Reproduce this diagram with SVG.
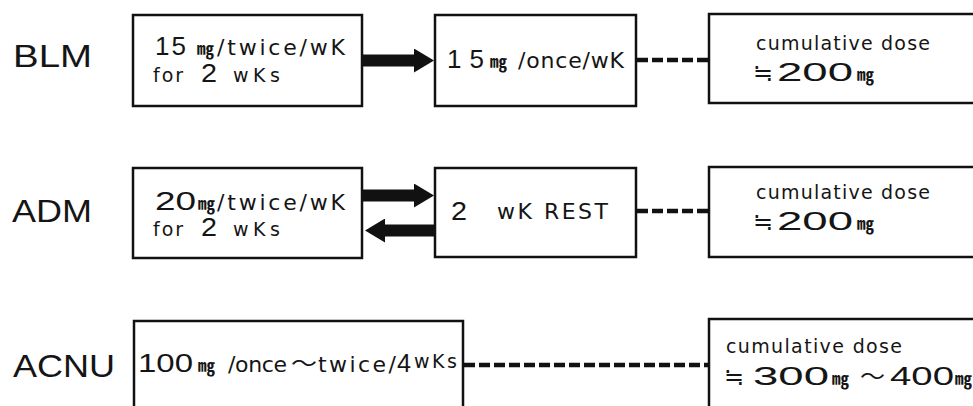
<svg xmlns="http://www.w3.org/2000/svg" width="973" height="406" viewBox="0 0 973 406">
  <defs>
    <style>
      .box { fill: #fff; stroke: #111; stroke-width: 2.5; }
      .t { font-family: "DejaVu Sans", "Liberation Sans", sans-serif; fill: #151515; }
      .d { font-family: "Liberation Sans", "DejaVu Sans", sans-serif; fill: #151515; }
      .cjk { font-family: "Noto Sans CJK JP", "DejaVu Sans", sans-serif; fill: #151515; }
      .drug { font-size: 32px; }
      .big { font-size: 26px; }
      .mid { font-size: 22px; }
      .sm { font-size: 19px; }
      .approx { font-size: 24px; }
      .unit { font-size: 17px; font-weight: bold; }
      .arrow { stroke: #111; stroke-width: 12; fill: none; }
      .dash { stroke: #111; stroke-width: 4.5; stroke-dasharray: 11 4; fill: none; }
    </style>
    <marker id="head" markerUnits="userSpaceOnUse" markerWidth="22" markerHeight="24" refX="1" refY="12" orient="auto">
      <path d="M0,0 L20,12 L0,24 z" fill="#111"/>
    </marker>
  </defs>
  <rect width="973" height="406" fill="#fff"/>

  <!-- drug labels -->
  <g id="label-blm"><text class="d drug" x="13" y="67" textLength="79" lengthAdjust="spacingAndGlyphs">BLM</text></g>
  <g id="label-adm"><text class="d drug" x="12" y="222" textLength="80" lengthAdjust="spacingAndGlyphs">ADM</text></g>
  <g id="label-acnu"><text class="d drug" x="13" y="377" textLength="102" lengthAdjust="spacingAndGlyphs">ACNU</text></g>

  <!-- BLM row -->
  <g id="blm-schedule">
    <rect class="box" x="133" y="15" width="229" height="91"/>
    <text class="d big" x="155" y="55" textLength="31" lengthAdjust="spacing">15</text>
    <text class="cjk unit" x="197" y="55">㎎</text>
    <text class="t mid" x="217" y="55" textLength="128" lengthAdjust="spacing">/twice/wK</text>
    <text class="t sm" x="153" y="82" textLength="30" lengthAdjust="spacing">for</text>
    <text class="d big" x="201" y="82" textLength="16" lengthAdjust="spacingAndGlyphs">2</text>
    <text class="t sm" x="233" y="82" textLength="47" lengthAdjust="spacing">wKs</text>
  </g>
  <g id="blm-maintenance">
    <rect class="box" x="435" y="15" width="201" height="91"/>
    <text class="d big" x="447" y="68" textLength="37" lengthAdjust="spacing">15</text>
    <text class="cjk unit" x="490" y="68">㎎</text>
    <text class="t mid" x="518" y="68" textLength="106" lengthAdjust="spacing">/once/wK</text>
  </g>
  <g id="blm-total">
    <rect class="box" x="709" y="14" width="300" height="89"/>
    <text class="t sm" x="756" y="50" textLength="174" lengthAdjust="spacing">cumulative dose</text>
    <text class="cjk approx" x="753" y="81">≒</text>
    <text class="d big" x="777" y="81" textLength="76" lengthAdjust="spacingAndGlyphs">200</text>
    <text class="cjk unit" x="857" y="81">㎎</text>
  </g>

  <!-- ADM row -->
  <g id="adm-schedule">
    <rect class="box" x="133" y="168" width="229" height="90"/>
    <text class="d big" x="155" y="210" textLength="41" lengthAdjust="spacingAndGlyphs">20</text>
    <text class="cjk unit" x="198" y="210">㎎</text>
    <text class="t mid" x="217" y="210" textLength="128" lengthAdjust="spacing">/twice/wK</text>
    <text class="t sm" x="153" y="236" textLength="30" lengthAdjust="spacing">for</text>
    <text class="d big" x="201" y="236" textLength="16" lengthAdjust="spacingAndGlyphs">2</text>
    <text class="t sm" x="233" y="236" textLength="47" lengthAdjust="spacing">wKs</text>
  </g>
  <g id="adm-rest">
    <rect class="box" x="435" y="168" width="201" height="89"/>
    <text class="d big" x="451" y="220" textLength="16" lengthAdjust="spacingAndGlyphs">2</text>
    <text class="t mid" x="497" y="219" textLength="111" lengthAdjust="spacing">wK REST</text>
  </g>
  <g id="adm-total">
    <rect class="box" x="709" y="167" width="300" height="90"/>
    <text class="t sm" x="756" y="199" textLength="174" lengthAdjust="spacing">cumulative dose</text>
    <text class="cjk approx" x="753" y="230">≒</text>
    <text class="d big" x="777" y="230" textLength="76" lengthAdjust="spacingAndGlyphs">200</text>
    <text class="cjk unit" x="857" y="230">㎎</text>
  </g>

  <!-- ACNU row -->
  <g id="acnu-schedule">
    <rect class="box" x="134" y="321" width="329" height="120"/>
    <text class="d big" x="138" y="372" textLength="55" lengthAdjust="spacingAndGlyphs">100</text>
    <text class="cjk unit" x="198" y="372">㎎</text>
    <text class="t mid" x="228" y="372" textLength="59" lengthAdjust="spacing">/once</text>
    <text class="cjk mid" x="291" y="371" textLength="26" lengthAdjust="spacingAndGlyphs">〜</text>
    <text class="t mid" x="318" y="372" textLength="78" lengthAdjust="spacing">twice/</text>
    <text class="d big" x="397" y="372" textLength="14" lengthAdjust="spacingAndGlyphs">4</text>
    <text class="t sm" x="414" y="368" textLength="43" lengthAdjust="spacing">wKs</text>
  </g>
  <g id="acnu-total">
    <rect class="box" x="709" y="319" width="300" height="120"/>
    <text class="t sm" x="726" y="353" textLength="176" lengthAdjust="spacing">cumulative dose</text>
    <text class="cjk approx" x="724" y="385">≒</text>
    <text class="d big" x="753" y="385" textLength="76" lengthAdjust="spacingAndGlyphs">300</text>
    <text class="cjk unit" x="832" y="385">㎎</text>
    <text class="cjk mid" x="860" y="384" textLength="25" lengthAdjust="spacingAndGlyphs">〜</text>
    <text class="d big" x="890" y="385" textLength="64" lengthAdjust="spacingAndGlyphs">400</text>
    <text class="cjk unit" x="955" y="385">㎎</text>
  </g>

  <!-- connectors -->
  <g id="connectors">
    <line class="arrow" x1="362" y1="60.5" x2="415" y2="60.5" marker-end="url(#head)"/>
    <line class="arrow" x1="362" y1="195.5" x2="415" y2="195.5" marker-end="url(#head)"/>
    <line class="arrow" x1="435" y1="230.5" x2="384" y2="230.5" marker-end="url(#head)"/>
    <line class="dash" x1="637" y1="60" x2="709" y2="60"/>
    <line class="dash" x1="637" y1="211" x2="709" y2="211"/>
    <line class="dash" x1="464" y1="365" x2="709" y2="365"/>
  </g>
</svg>
